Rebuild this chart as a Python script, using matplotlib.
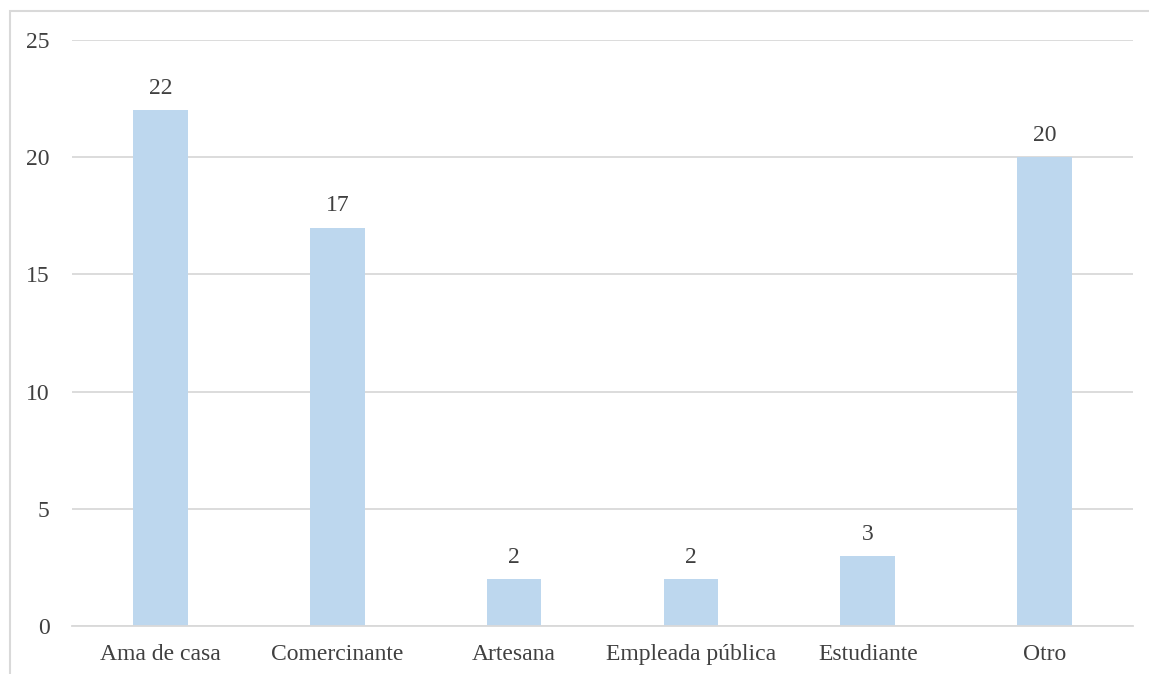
import matplotlib.pyplot as plt
from matplotlib.patches import Rectangle

categorias = ['Ama de casa', 'Comercinante', 'Artesana', 'Empleada pública', 'Estudiante', 'Otro']
valores = [22, 17, 2, 2, 3, 20]
ticks_y = [0, 5, 10, 15, 20, 25]

plt.rcParams['font.family'] = ['Liberation Serif', 'DejaVu Serif']

W, H = 1149, 674
fig = plt.figure(figsize=(W / 100, H / 100), dpi=100)
ax = fig.add_axes([72 / W, 1 - 626 / H, (1133 - 72) / W, (626 - 40) / H])

# marco gris del gráfico
fig.patches.append(Rectangle((10 / W, -0.1), 1.2, 1 - 11 / H + 0.1, transform=fig.transFigure,
                             fill=False, edgecolor='#d9d9d9', linewidth=1.5))

x = range(len(categorias))
barras = ax.bar(x, valores, width=0.31, color='#bdd7ee', zorder=2)
for b, v in zip(barras, valores):
    ax.annotate(str(v), (b.get_x() + b.get_width() / 2, v), xytext=(0, 8),
                textcoords='offset points', ha='center', va='bottom',
                fontsize=17, color='#404040')

ax.set_xlim(-0.5, len(categorias) - 0.5)
ax.set_ylim(0, 25)
ax.set_yticks(ticks_y)
ax.set_xticks(list(x))
ax.set_xticklabels(categorias)
ax.tick_params(axis='both', length=0, labelsize=17, labelcolor='#404040')
ax.tick_params(axis='y', pad=16)
ax.tick_params(axis='x', pad=13)
ax.yaxis.grid(True, color='#d9d9d9', linewidth=1.3, zorder=0)
for s in ['top', 'right', 'left']:
    ax.spines[s].set_visible(False)
ax.spines['bottom'].set_color('#d9d9d9')
ax.spines['bottom'].set_linewidth(1.3)

fig.savefig('out.png', dpi=100)
